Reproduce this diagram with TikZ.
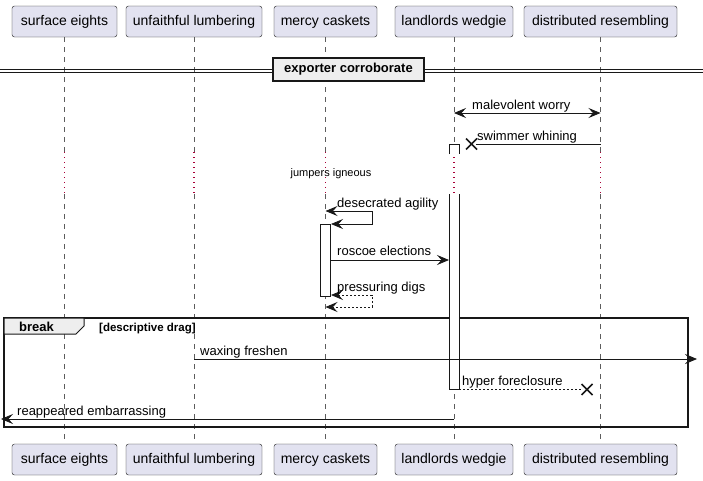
\documentclass[tikz,border=0pt]{standalone}
\usepackage{fontspec}
\setmainfont{Liberation Sans}
\usetikzlibrary{arrows.meta}

\definecolor{partfill}{HTML}{E2E2F0}
\definecolor{ink}{HTML}{181818}
\definecolor{grpfill}{HTML}{EEEEEE}
\definecolor{delayred}{HTML}{A80036}

\tikzset{
    party/.style={draw=ink, fill=partfill, rounded corners=2.5pt, minimum height=31pt,
        inner sep=0pt, font=\fontsize{14}{16}\selectfont},
    lifeline/.style={draw=ink!70, line width=0.6pt, dash pattern=on 5pt off 5pt},
    delayline/.style={draw=delayred, line width=1.2pt, dash pattern=on 1pt off 4pt},
    msg/.style={draw=ink, line width=0.8pt},
    reply/.style={msg, dash pattern=on 2pt off 2pt},
    tip/.style={-{Stealth[length=12pt, width=10pt, inset=4.5pt]}},
    bothtips/.style={{Stealth[length=12pt, width=10pt, inset=4.5pt]}-{Stealth[length=12pt, width=10pt, inset=4.5pt]}},
    lbl/.style={anchor=base west, inner sep=0pt, font=\fontsize{13}{15}\selectfont},
    act/.style={draw=ink, fill=white, line width=0.8pt},
    killx/.pic={\draw[ink, line width=1.6pt] (-5.5,-5.5) -- (5.5,5.5) (-5.5,5.5) -- (5.5,-5.5);}
}

\begin{document}
\begin{tikzpicture}[x=1pt, y=-1pt]
    \useasboundingbox (0,0) rectangle (703,480);

    % participants, top and bottom
    \node[party, minimum width=105pt] (se) at (64.5,21.5) {surface eights};
    \node[party, minimum width=136pt] (ul) at (194,21.5) {unfaithful lumbering};
    \node[party, minimum width=103pt] (mc) at (325.5,21.5) {mercy caskets};
    \node[party, minimum width=118pt] (lw) at (454,21.5) {landlords wedgie};
    \node[party, minimum width=153pt] (dr) at (600.5,21.5) {distributed resembling};
    \node[party, minimum width=105pt] (se-b) at (64.5,459.5) {surface eights};
    \node[party, minimum width=136pt] (ul-b) at (194,459.5) {unfaithful lumbering};
    \node[party, minimum width=103pt] (mc-b) at (325.5,459.5) {mercy caskets};
    \node[party, minimum width=118pt] (lw-b) at (454,459.5) {landlords wedgie};
    \node[party, minimum width=153pt] (dr-b) at (600.5,459.5) {distributed resembling};

    % lifelines with the delay gap
    \foreach \p in {se,ul,mc,lw,dr} {
        \draw[lifeline] (\p.south) -- (\p |- 0,152);
        \draw[delayline] (\p |- 0,152) -- (\p |- 0,194);
        \draw[lifeline] (\p |- 0,194) -- (\p-b.north);
    }

    % divider
    \draw[ink, line width=0.8pt] (0,69) -- (703,69) (0,72) -- (703,72);
    \node[draw=ink, fill=grpfill, line width=1.5pt, minimum width=151pt, minimum height=23pt,
        inner sep=0pt, font=\bfseries\fontsize{13}{15}\selectfont] (div) at (348.5,69.5) {exporter corroborate};

    % break group
    \draw[ink, line width=1.5pt] (4,318) rectangle (688,427);
    \draw[ink, line width=1pt, fill=grpfill] (4,318) -- (84,318) -- (84,326) -- (76,334) -- (4,334) -- cycle;
    \node[anchor=base west, inner sep=0pt, font=\bfseries\fontsize{13}{15}\selectfont] (brk) at (19,331) {break};
    \node[anchor=base west, inner sep=0pt, font=\bfseries\fontsize{11.5}{13}\selectfont] (cond) at (99,331) {[descriptive drag]};

    % activations
    \draw[act] (449,154) -- (449,144) -- (459,144) -- (459,154);
    \draw[act] (449,194) -- (449,389) -- (459,389) -- (459,194);
    \draw[act] (320,224) rectangle (330,296);

    % messages
    \draw[msg, bothtips] (lw |- 0,113) -- (dr |- 0,113);
    \node[lbl] (m1) at (472,109) {malevolent worry};

    \draw[msg] (dr |- 0,144) -- (476,144);
    \pic at (471.5,144) {killx};
    \node[lbl] (m2) at (477,140) {swimmer whining};

    \node[inner sep=0pt, font=\fontsize{11}{13}\selectfont] (dl) at (331,174) {jumpers igneous};

    \draw[msg, bothtips] (mc |- 0,211) -- (372,211) -- (372,224) -- (331,224);
    \node[lbl] (m3) at (337,207) {desecrated agility};

    \draw[msg, tip] (330,260) -- (449,260);
    \node[lbl] (m4) at (337,255) {roscoe elections};

    \draw[reply, bothtips] (331,295) -- (372,295) -- (372,307) -- (mc |- 0,307);
    \node[lbl] (m5) at (337,291) {pressuring digs};

    \draw[msg, tip] (ul |- 0,359) -- (697,359);
    \node[lbl] (m6) at (200,355) {waxing freshen};

    \draw[reply] (459,389) -- (582,389);
    \pic at (587,389.5) {killx};
    \node[lbl] (m7) at (462,385) {hyper foreclosure};

    \draw[msg, tip] (lw |- 0,419) -- (1,419);
    \node[lbl] (m8) at (17,415) {reappeared embarrassing};
\end{tikzpicture}
\end{document}
